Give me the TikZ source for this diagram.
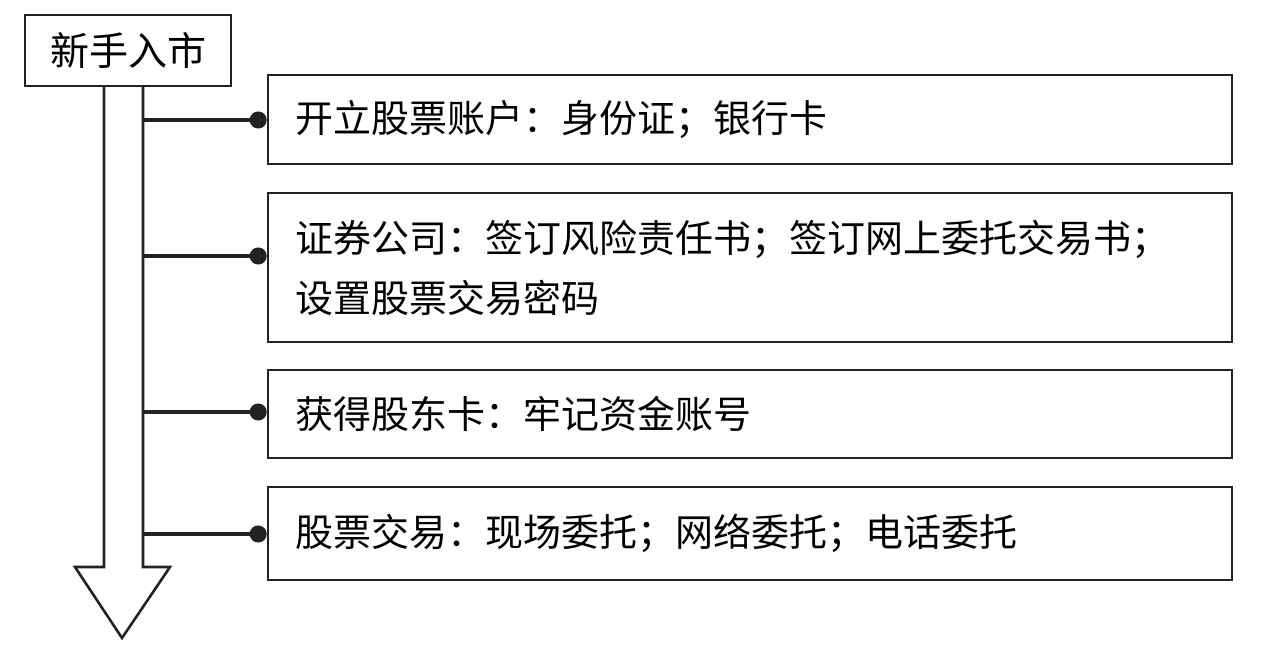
\documentclass[tikz,border=0pt]{standalone}
\usepackage{fontspec}
\newfontfamily\cjk{Noto Sans CJK SC}
\usetikzlibrary{arrows.meta}
\definecolor{ink}{HTML}{222222}
\begin{document}
\begin{tikzpicture}[x=1pt,y=-1pt,
  box/.style={draw=ink, line width=2.6pt, rectangle, inner xsep=0pt, inner ysep=0pt,
    minimum width=964pt, text width=910pt, align=left,
    font=\cjk\fontsize{38}{60}\selectfont, text=black},
  titlebox/.style={draw=ink, line width=2.6pt, rectangle, minimum width=206pt,
    minimum height=71pt, inner sep=0pt, font=\cjk\fontsize{39}{44}\selectfont},
  shaft/.style={draw=ink, line width=2.6pt, line join=miter},
  conn/.style={draw=ink, line width=4pt, -{Circle[length=17pt,width=17pt]}}]
\useasboundingbox (0,0) rectangle (1261,652);
\node[titlebox] (title) at (128,50.5) {新手入市};
\node[box, minimum height=89pt] (b1) at (750,119.5) {开立股票账户：身份证；银行卡};
\node[box, minimum height=149pt] (b2) at (750,267.5) {证券公司：签订风险责任书；签订网上委托交易书；\\设置股票交易密码};
\node[box, minimum height=88pt] (b3) at (750,414) {获得股东卡：牢记资金账号};
\node[box, minimum height=93pt] (b4) at (750,533.5) {股票交易：现场委托；网络委托；电话委托};
\coordinate (s1) at (143,120);
\coordinate (s2) at (143,256);
\coordinate (s3) at (143,412);
\coordinate (s4) at (143,534);
\draw[shaft] (104,86) -- (104,567) -- (75,567) -- (122,638) -- (170,567) -- (143,567) -- (143,86);
\draw[conn] (s1) -- (s1 -| b1.west);
\draw[conn] (s2) -- (s2 -| b2.west);
\draw[conn] (s3) -- (s3 -| b3.west);
\draw[conn] (s4) -- (s4 -| b4.west);
\end{tikzpicture}
\end{document}
